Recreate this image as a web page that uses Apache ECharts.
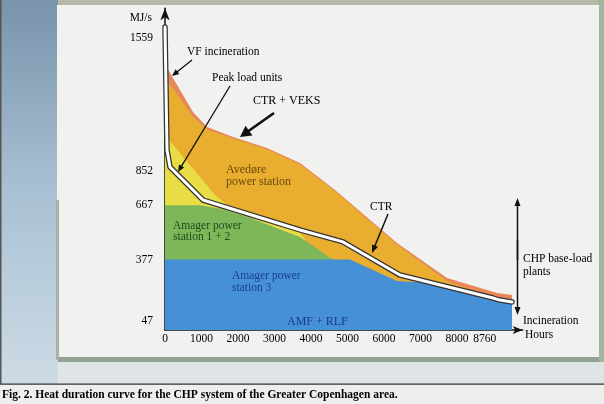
<!DOCTYPE html>
<html><head><meta charset="utf-8">
<script src="https://cdn.jsdelivr.net/npm/echarts@6/dist/echarts.min.js"></script>
<style>html,body{margin:0;padding:0;background:#e4e8ea}#c{width:604px;height:404px}</style>
</head><body><div id="c"></div>
<script>
// Tick labels
const hourTicks = [0, 1000, 2000, 3000, 4000, 5000, 6000, 7000, 8000, 8760];
const loadTicks = [47, 377, 667, 852, 1559];
// Each point: [hours, MJ/s] — top edge of each (cumulative) layer
const vfIncinerationTop = [[0,1420],[411,1283],[767,1166],[1151,1086],[1863,1032],[2795,973],[3699,893],[4658,749],[6356,465],[7726,278],[9096,198],[9507,187]];
const avedoreTop = [[0,1350],[411,1240],[767,1140],[1151,1072],[1863,1024],[2795,966],[3699,886],[4658,742],[6356,457],[7726,262],[8986,171],[9507,150]];
const peakLoadTop = [[0,1043],[685,882],[1370,722],[1918,635],[2329,605],[3000,565],[3699,520],[4000,440]];
const amager12Top = [[0,667],[959,667],[1500,650],[2329,600],[3000,550],[3699,497],[4200,430],[4521,385],[4700,370]];
const amager3Top = [[0,377],[5068,377],[6356,262],[7342,251],[8274,214],[8986,166],[9507,150]];
const amfRlfTop = [[0,47],[9507,47]];
const ctrLine = [[0,1620],[55,963],[137,872],[1041,695],[3699,535],[4877,471],[6438,294],[8986,171],[9178,160],[9507,150]];

const SERIF = "'Liberation Serif','DejaVu Serif',serif";
const chart = echarts.init(document.getElementById('c'), null, {renderer: 'canvas'});

function area(name, data, color) {
  return {name, type: 'line', data, symbol: 'none', showSymbol: false, silent: true,
    lineStyle: {width: 0}, areaStyle: {color, opacity: 1}};
}
function arrow(x1, y1, x2, y2, w, hl, hw) {
  const dx = x2 - x1, dy = y2 - y1, L = Math.hypot(dx, dy), ux = dx / L, uy = dy / L;
  const bx = x2 - ux * hl, by = y2 - uy * hl;
  return [
    {type: 'line', z: 100, silent: true, shape: {x1, y1, x2: bx + ux, y2: by + uy}, style: {stroke: '#111', lineWidth: w}},
    {type: 'polygon', z: 100, silent: true, shape: {points: [[x2, y2], [bx - uy * hw, by + ux * hw], [bx + uy * hw, by - ux * hw]]}, style: {fill: '#111'}}
  ];
}
function txt(text, x, y, size, color, extra) {
  return Object.assign({type: 'text', z: 100, silent: true, x, y,
    style: Object.assign({text, font: size + 'px ' + SERIF, fill: color, align: 'left', verticalAlign: 'middle'}, extra || {})});
}

const graphics = [
  // scanned page background
  {type: 'rect', z: -100, shape: {x: 0, y: 0, width: 604, height: 404}, style: {fill: '#dfe4e7'}},
  {type: 'rect', z: -99, shape: {x: 0, y: 0, width: 58, height: 384},
    style: {fill: new echarts.graphic.LinearGradient(0, 0, 0, 1, [{offset: 0, color: '#7893ab'}, {offset: 0.5, color: '#a9c1d4'}, {offset: 1, color: '#cddbe5'}])}},
  {type: 'rect', z: -99, shape: {x: 58, y: 0, width: 546, height: 6}, style: {fill: '#b5b8a6'}},
  {type: 'rect', z: -99, shape: {x: 598, y: 0, width: 6, height: 362}, style: {fill: '#a3b39e'}},
  {type: 'rect', z: -98, shape: {x: 57, y: 5, width: 542, height: 354}, style: {fill: '#f1f1ef'}},
  {type: 'rect', z: -97, shape: {x: 58, y: 357, width: 541, height: 5}, style: {fill: '#93a393'}},
  {type: 'rect', z: -97, shape: {x: 56, y: 200, width: 3, height: 160}, style: {fill: '#a8b3a8'}},
  {type: 'rect', z: -97, shape: {x: 0, y: 384, width: 604, height: 20}, style: {fill: '#eeeeec'}},
  {type: 'rect', z: -96, shape: {x: 0, y: 383.5, width: 604, height: 1.2}, style: {fill: '#333'}},
  {type: 'rect', z: -96, shape: {x: 0, y: 0, width: 1.5, height: 384}, style: {fill: '#555'}},
  // labels
  txt('MJ/s', 152, 17.5, 11.5, '#000', {align: 'right'}),
  txt('VF incineration', 187, 52, 11.5, '#000'),
  txt('Peak load units', 212, 78, 11.5, '#000'),
  txt('CTR + VEKS', 253, 101, 12, '#000'),
  txt('Avedøre\npower station', 226, 176, 12, '#6a4a0c', {lineHeight: 12}),
  txt('Amager power\nstation 1 + 2', 173, 231.5, 11.5, '#1f4a1f', {lineHeight: 11.5}),
  txt('Amager power\nstation 3', 232, 282, 11.5, '#1a3f8f', {lineHeight: 12}),
  txt('AMF + RLF', 287, 321.5, 12, '#1a3a8a'),
  txt('CTR', 370, 207, 11.5, '#000'),
  txt('CHP base-load\nplants', 523, 265.5, 11.5, '#000', {lineHeight: 13}),
  txt('Incineration', 523, 321, 11.5, '#000'),
  txt('Hours', 525, 335, 11.5, '#000'),
  txt('Fig. 2. Heat duration curve for the CHP system of the Greater Copenhagen area.', 2, 395, 11.5, '#000', {font: 'bold 11.5px ' + SERIF})
]
.concat(arrow(192, 60, 172, 76, 1.3, 7, 3))
.concat(arrow(230, 86, 178, 172, 1.3, 7, 3))
.concat(arrow(274, 113, 240, 137, 2.6, 11, 6))
.concat(arrow(388, 214, 372, 253, 1.5, 8, 3.2))
.concat(arrow(517.5, 240, 517.5, 315, 1.5, 8, 3))
.concat(arrow(517.5, 260, 517.5, 198, 1.5, 8, 3));

const plain = v => String(v);

chart.setOption({
  animation: false,
  backgroundColor: 'transparent',
  grid: {left: 165, top: 8.36, width: 357.7, height: 321.64, containLabel: false},
  xAxis: {
    type: 'value', min: 0, max: 9800,
    axisLine: {show: true, symbol: ['none', 'arrow'], symbolSize: [6, 10], lineStyle: {color: '#111', width: 1.5}},
    axisTick: {show: false}, splitLine: {show: false},
    axisLabel: {customValues: hourTicks, formatter: plain, margin: 3, fontFamily: SERIF, fontSize: 11.5, color: '#000'}
  },
  yAxis: {
    type: 'value', min: 0, max: 1720,
    axisLine: {show: true, symbol: ['none', 'arrow'], symbolSize: [7, 12], lineStyle: {color: '#111', width: 1.5}},
    axisTick: {show: false}, splitLine: {show: false},
    axisLabel: {customValues: loadTicks, formatter: plain, margin: 12, fontFamily: SERIF, fontSize: 11.5, color: '#000'}
  },
  series: [
    area('VF incineration', vfIncinerationTop, '#e8875a'),
    area('Avedøre power station', avedoreTop, '#e9ad2f'),
    area('Peak load units', peakLoadTop, '#e8dd44'),
    area('Amager power station 1 + 2', amager12Top, '#7db75a'),
    area('Amager power station 3', amager3Top, '#4690d6'),
    area('AMF + RLF', amfRlfTop, '#4690d6'),
    {name: 'CTR outline', type: 'line', data: ctrLine, symbol: 'none', silent: true, lineStyle: {color: '#333', width: 5.5, cap: 'round', join: 'round'}},
    {name: 'CTR', type: 'line', data: ctrLine, symbol: 'none', silent: true, lineStyle: {color: '#ffffff', width: 3, cap: 'round', join: 'round'}}
  ],
  graphic: graphics
});
</script></body></html>
